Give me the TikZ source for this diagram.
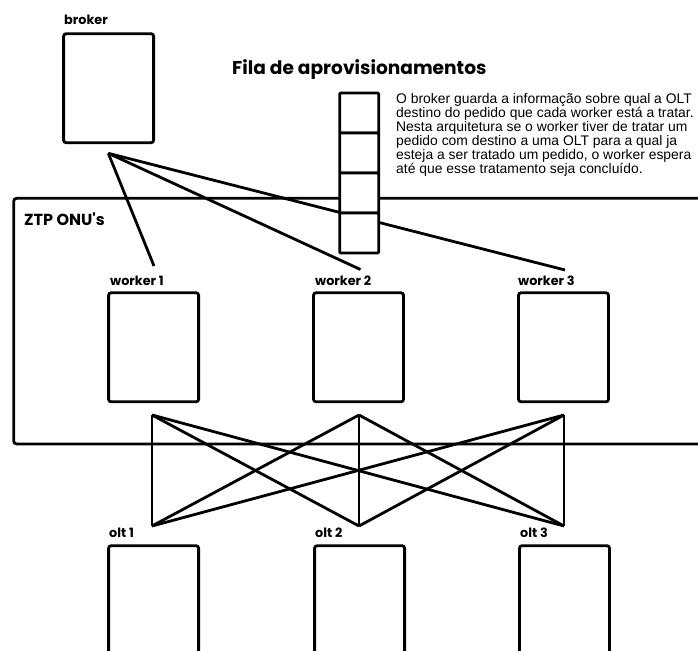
\documentclass[tikz,border=0pt]{standalone}
\usepackage{fontspec}
\setmainfont{Liberation Sans}
\newfontfamily\lblfont{Poppins}
\begin{document}
\begin{tikzpicture}[x=1pt,y=-1pt,
  box/.style={draw, line width=2.8pt, rounded corners=2.5pt, minimum width=90pt,
    minimum height=109pt, inner sep=0pt, fill=white},
  cell/.style={draw, line width=2.8pt, rounded corners=1pt, minimum width=39pt,
    minimum height=40pt, inner sep=0pt, fill=white},
  lbl/.style={anchor=base west, inner sep=0pt,
    font=\lblfont\bfseries\fontsize{12.8}{14}\selectfont},
  frame/.style={line width=2.8pt, rounded corners=3pt},
  wire/.style={line width=2.8pt},
]
\useasboundingbox (0,0) rectangle (698,650);
\clip (0,0) rectangle (698,650);

% ZTP ONU's area, open to the right
\coordinate (ztpTR) at (705,198.3);
\coordinate (ztpTL) at (13.7,198.3);
\coordinate (ztpBL) at (13.7,444);
\coordinate (ztpBR) at (705,444);
\draw[frame] (ztpTR) -- (ztpTL) -- (ztpBL) -- (ztpBR);
\node[lbl, font=\lblfont\bfseries\fontsize{16}{18}\selectfont] (ztplbl) at (24,225) {ZTP ONU's};

% broker
\node[box] (broker) at (108.6,88.2) {};
\node[lbl] (brokerlbl) at (64,25) {broker};

% broker links to the workers
\coordinate (hub) at (108.3,153.3);
\coordinate (w1in) at (154,266);
\coordinate (w2in) at (360.5,269.5);
\coordinate (w3in) at (565,270);
\draw[wire] (hub) -- (w1in);
\draw[wire] (hub) -- (w2in);
\draw[wire] (hub) -- (w3in);

% provisioning queue
\node[lbl, font=\lblfont\bfseries\fontsize{18.6}{20}\selectfont] (title) at (232,75) {Fila de aprovisionamentos};
\node[cell] (q1) at (359.2,113) {};
\node[cell] (q2) at (359.2,153) {};
\node[cell] (q3) at (359.2,193) {};
\node[cell] (q4) at (359.2,233) {};

\node[anchor=north west, inner sep=0pt, align=left,
  font=\fontsize{13.9}{14}\selectfont] (note) at (396,93) {%
O broker guarda a informação sobre qual a OLT\\
destino do pedido que cada worker está a tratar.\\
Nesta arquitetura se o worker tiver de tratar um\\
pedido com destino a uma OLT para a qual ja\\
esteja a ser tratado um pedido, o worker espera\\
até que esse tratamento seja concluído.};

% workers
\node[box] (w1) at (153.6,347.3) {};
\node[box] (w2) at (358.5,347.3) {};
\node[box] (w3) at (563.5,347.3) {};
\node[lbl] (w1lbl) at (110,285) {worker 1};
\node[lbl] (w2lbl) at (315,285) {worker 2};
\node[lbl] (w3lbl) at (518,285) {worker 3};

% every worker may reach every OLT
\coordinate (m1) at (152,415);
\coordinate (m2) at (359,415);
\coordinate (m3) at (564,415);
\coordinate (o1) at (152,526);
\coordinate (o2) at (359,526);
\coordinate (o3) at (564,526);
\foreach \a in {m1,m2,m3}
  \foreach \b in {o1,o2,o3}
    \draw[wire] (\a) -- (\b);

% OLTs
\node[box] (olt1) at (153.6,600.2) {};
\node[box] (olt2) at (359.6,600.2) {};
\node[box] (olt3) at (564.5,600.2) {};
\node[lbl] (olt1lbl) at (109,537) {olt 1};
\node[lbl] (olt2lbl) at (315,537) {olt 2};
\node[lbl] (olt3lbl) at (520,537) {olt 3};
\end{tikzpicture}
\end{document}
